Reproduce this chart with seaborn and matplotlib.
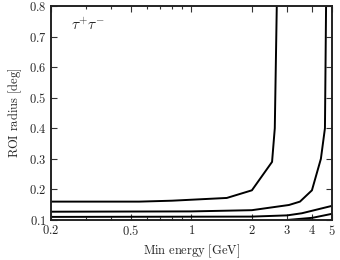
import matplotlib
matplotlib.use("Agg")
import matplotlib.pyplot as plt
import matplotlib.ticker as mticker
import seaborn as sns
import pandas as pd
import numpy as np

# curves: ROI radius vs min energy
e1 = [0.2, 0.55, 0.8, 1.5, 2.0, 2.52, 2.6, 2.66]
r1 = [0.16, 0.16, 0.163, 0.172, 0.197, 0.29, 0.4, 0.8]

e2 = [0.2, 1.0, 2.0, 3.06, 3.47, 3.98, 4.41, 4.62, 4.68]
r2 = [0.127, 0.128, 0.132, 0.149, 0.16, 0.197, 0.3, 0.4, 0.8]

e3 = [0.2, 2.0, 3.0, 3.55, 5.0]
r3 = [0.11, 0.111, 0.115, 0.122, 0.146]

e4 = [3.0, 4.0, 5.0]
r4 = [0.1, 0.107, 0.12]

xticks = [0.2, 0.5, 1, 2, 3, 4, 5]
xticklabels = ["0.2", "0.5", "1", "2", "3", "4", "5"]
yticks = [0.1, 0.2, 0.3, 0.4, 0.5, 0.6, 0.7, 0.8]

sns.set_style("ticks")
plt.rcParams["font.family"] = ["DejaVu Serif"]
plt.rcParams["mathtext.fontset"] = "cm"

fig = plt.figure(figsize=(3.4, 2.6), dpi=100)
ax = fig.add_axes([0.15, 0.154, 0.826, 0.823])

for i, (e, r) in enumerate([(e1, r1), (e2, r2), (e3, r3), (e4, r4)]):
    df = pd.DataFrame({"E": e, "R": r})
    sns.lineplot(data=df, x="E", y="R", ax=ax, color="black", lw=1.4,
                 sort=False, estimator=None)

ax.set_xscale("log")
ax.set_xlim(0.2, 5)
ax.set_ylim(0.1, 0.8)
ax.set_xticks(xticks)
ax.set_xticklabels([r"$\mathrm{%s}$" % t for t in xticklabels], fontsize=9)
ax.xaxis.set_minor_locator(mticker.LogLocator(base=10, subs=np.arange(2, 10)))
ax.xaxis.set_minor_formatter(mticker.NullFormatter())
ax.set_yticks(yticks)
ax.set_yticklabels([r"$\mathrm{%.1f}$" % t for t in yticks], fontsize=9)

ax.tick_params(which="both", direction="in", top=True, right=True, width=0.8,
               color="#333333", pad=3)
ax.tick_params(which="major", length=4)
ax.tick_params(which="minor", length=2)
for s in ax.spines.values():
    s.set_linewidth(1.4)
    s.set_color("#222222")

ax.set_xlabel(r"$\mathrm{Min\ energy\ [GeV]}$", fontsize=9, labelpad=3)
ax.set_ylabel(r"$\mathrm{ROI\ radius\ [deg]}$", fontsize=9, labelpad=4)
ax.text(0.07, 0.89, r"$\tau^{+}\tau^{-}$", transform=ax.transAxes, fontsize=11)

fig.savefig("out.png", dpi=100)
